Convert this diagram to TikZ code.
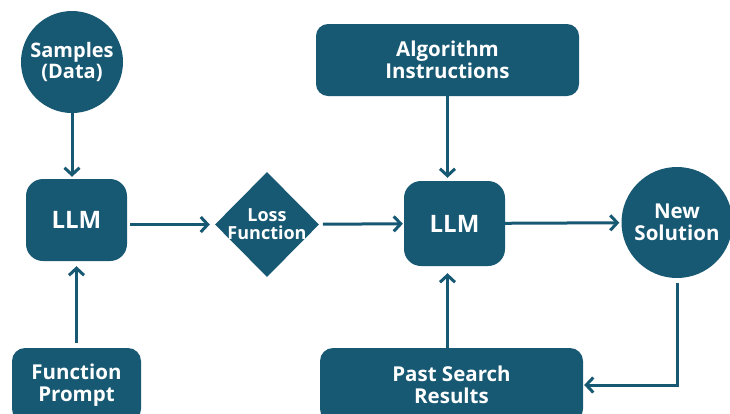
\documentclass[tikz,border=0pt]{standalone}
\usepackage{fontspec}
\setmainfont{Open Sans}
\usetikzlibrary{arrows.meta,shapes.geometric}
\definecolor{flowblue}{HTML}{175872}
\begin{document}
\begin{tikzpicture}[x=1pt,y=-1pt,>={Straight Barb[length=7pt,width=15pt]},
    blk/.style={fill=flowblue,text=white,align=center,inner sep=0pt,
        font=\fontsize{20.5}{21.5}\selectfont\bfseries},
    box/.style={blk,rectangle,rounded corners=13pt},
    round/.style={blk,circle},
    flow/.style={draw=flowblue,line width=3pt,->}]
\useasboundingbox (0,0) rectangle (730,413);

\node[round,minimum size=102pt,font=\fontsize{20}{21}\selectfont\bfseries] (samples) at (72,62)
    {Samples\\(Data)};
\node[box,minimum width=101pt,minimum height=82pt,rounded corners=17pt,
    font=\fontsize{24}{26}\selectfont\bfseries] (llmA) at (76.5,220) {LLM};
\node[box,minimum width=129pt,minimum height=74pt] (prompt) at (76.5,385) {Function\\Prompt};
\node[blk,diamond,minimum width=104pt,minimum height=105pt,inner sep=-3pt,
    font=\fontsize{18}{18}\selectfont\bfseries] (loss) at (267,224.5) {Loss\\Function};
\node[box,minimum width=263pt,minimum height=72pt,rounded corners=12pt] (algo) at (447.5,60)
    {Algorithm\\Instructions};
\node[box,minimum width=101pt,minimum height=85pt,rounded corners=17pt,
    font=\fontsize{24}{26}\selectfont\bfseries] (llmB) at (454.5,223.5) {LLM};
\node[round,minimum size=111pt] (newsol) at (677,222.5) {New\\Solution};
\node[box,minimum width=263pt,minimum height=74pt] (past) at (451.5,385) {Past Search\\Results};

\draw[flow,shorten >=2pt] (samples) -- (samples |- llmA.north);
\draw[flow,shorten <=5pt,shorten >=5pt] (prompt.north) -- (llmA.south);
\draw[flow,shorten <=3pt,shorten >=5pt] (llmA.east |- loss.west) -- (loss.west);
\draw[flow,shorten <=4pt,shorten >=1pt] (loss) -- (llmB);
\draw[flow,shorten >=3pt] (algo.south) -- (algo.south |- llmB.north);
\draw[flow,shorten >=7pt] (algo.south |- past.north) -- (algo.south |- llmB.south);
\draw[flow,shorten >=2pt] (llmB) -- (newsol);
\draw[flow,shorten <=5pt,shorten >=1pt] (newsol.south) |- (past.east);

\end{tikzpicture}
\end{document}
